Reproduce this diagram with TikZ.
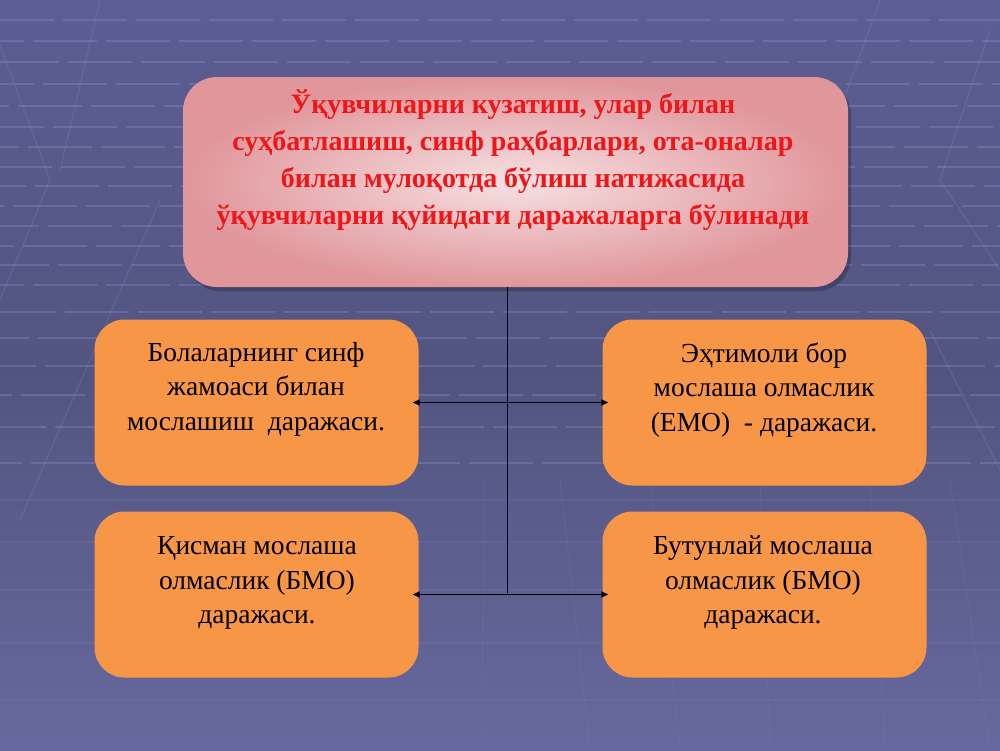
\documentclass[tikz,border=0pt]{standalone}
\usepackage{fontspec}
\setmainfont{Liberation Serif}
\usetikzlibrary{arrows.meta}
\definecolor{bgtop}{RGB}{92,94,148}
\definecolor{bgmid}{RGB}{82,84,128}
\definecolor{bgbot}{RGB}{103,105,158}
\definecolor{gridc}{RGB}{138,140,194}
\definecolor{pinkL}{RGB}{246,224,226}
\definecolor{pinkD}{RGB}{224,150,155}
\definecolor{boxorange}{RGB}{246,150,70}
\definecolor{titlered}{RGB}{238,22,24}
\tikzset{
  gridline/.style={gridc, line width=2pt, opacity=0.38},
  diag/.style={gridc, line width=1.5pt, opacity=0.2},
  topbox/.style={draw=none, rounded corners=34pt, minimum width=665pt, minimum height=210pt,
    inner color=pinkL, outer color=pinkD},
  obox/.style={fill=boxorange, draw=none, rounded corners=30pt, minimum width=324pt, minimum height=166pt},
  titletext/.style={text=titlered, font=\bfseries\fontsize{28}{37}\selectfont, align=center, inner sep=0pt},
  otext/.style={text=black, font=\fontsize{27.5}{34.5}\selectfont, align=center, inner sep=0pt},
  link/.style={draw=black!85!blue, line width=0.9pt},
  biarrow/.style={draw=black, line width=1.5pt, {Triangle[length=7pt,width=6pt]}-{Triangle[length=7pt,width=6pt]}}
}
\begin{document}
\begin{tikzpicture}[x=1pt,y=-1pt]
\useasboundingbox (0,0) rectangle (1000,750);
% background
\shade[top color=bgtop, bottom color=bgbot, middle color=bgmid] (0,0) rectangle (1000,750);
\foreach \y/\p in {20/10,41/40,62/5,84/30,106/55,127/20,147/45,167/12,186/38,206/60,226/25,246/50,265/15,285/40,312/8,338/35,366/28,395/52,427/18,463/42}{
  \draw[gridline, dash pattern=on 64pt off 9pt, dash phase=\p pt] (0,\y) -- (1000,\y);
}
\foreach \y in {500,542,590,643,700}{
  \draw[gridc, line width=1.5pt, opacity=0.15] (0,\y) -- (1000,\y);
}
% faint diagonals
\draw[diag] (0,45) -- (50,180) -- (0,300);
\draw[diag] (100,0) -- (60,170);
\draw[diag] (160,200) -- (20,520);
\draw[diag] (990,30) -- (940,180) -- (1000,270);
\draw[diag] (880,0) -- (800,220);
\draw[diag] (930,330) -- (1000,470);
\foreach \x/\xx in {484/482,560/590,650/680,760/770,870/885,950/990}{
  \draw[gridc, line width=1.2pt, opacity=0.12] (\x,480) -- (\xx,750);
}
% top box
\fill[black, opacity=0.22, rounded corners=34pt] (186,81) rectangle (851,291);
\node[topbox] (top) at (515.5,182) {};
\node[titletext] (toptext) at (513,160) {Ўқувчиларни кузатиш, улар билан\\суҳбатлашиш, синф раҳбарлари, ота-оналар\\билан мулоқотда бўлиш натижасида\\ўқувчиларни қуйидаги даражаларга бўлинади};
% orange boxes
\node[obox] (tl) at (256.5,402.5) {};
\node[obox] (tr) at (764.5,402.5) {};
\node[obox] (bl) at (256.5,594.5) {};
\node[obox] (br) at (764.5,594.5) {};
\node[otext] (tltext) at (256,389) {Болаларнинг синф\\жамоаси билан\\мослашиш\ \ даражаси.};
\node[otext] (trtext) at (764,390) {Эҳтимоли бор\\мослаша олмаслик\\(ЕМО)\ \ - даражаси.};
\node[otext] (bltext) at (257,583) {Қисман мослаша\\олмаслик (БМО)\\даражаси.};
\node[otext] (brtext) at (763,583) {Бутунлай мослаша\\олмаслик (БМО)\\даражаси.};
% connectors
\coordinate (j1) at (507,402);
\coordinate (j2) at (507,593);
\draw[link] (top.south -| j1) -- (j2);
\draw[biarrow] ([xshift=-6pt]tl.east) -- ([xshift=6pt]tr.west);
\draw[biarrow] ([xshift=-6pt]bl.east) -- ([xshift=6pt]br.west);
\end{tikzpicture}
\end{document}
